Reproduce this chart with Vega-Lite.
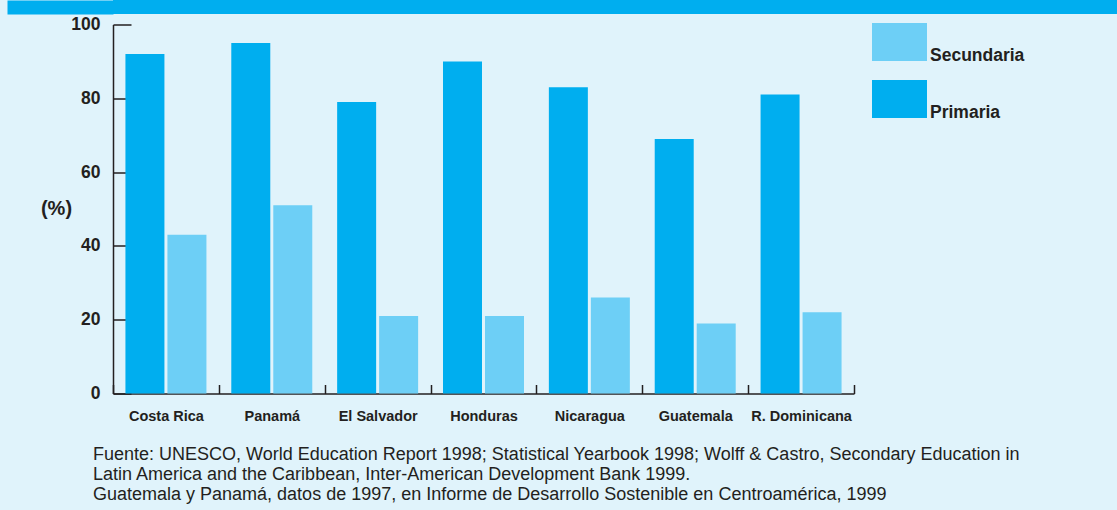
{
  "$schema": "https://vega.github.io/schema/vega-lite/v6.json",
  "background": "#e0f3fb",
  "padding": {"left": 0, "top": 0, "right": 0, "bottom": 8},
  "spacing": 1.5,
  "columns": 1,
  "config": {
    "font": "Liberation Sans",
    "view": {"stroke": null}
  },
  "concat": [
    {
      "width": 1004,
      "height": 14,
      "view": {"fill": "#00aeef", "stroke": null},
      "data": {"values": [{}]},
      "mark": {"type": "rule", "color": "#00aeef", "strokeWidth": 14},
      "encoding": {
        "y": {
          "datum": 0.5,
          "type": "quantitative",
          "scale": {"domain": [0, 1]},
          "axis": {
            "values": [0.5],
            "title": null,
            "labels": false,
            "domain": false,
            "grid": false,
            "tickSize": 106,
            "tickWidth": 14,
            "tickCap": "butt",
            "tickColor": "#00aeef"
          }
        }
      }
    },
    {
      "width": 741,
      "height": 369,
      "data": {
        "values": [
          {"pais": "Costa Rica", "nivel": "Primaria", "valor": 92},
          {"pais": "Costa Rica", "nivel": "Secundaria", "valor": 43},
          {"pais": "Panamá", "nivel": "Primaria", "valor": 95},
          {"pais": "Panamá", "nivel": "Secundaria", "valor": 51},
          {"pais": "El Salvador", "nivel": "Primaria", "valor": 79},
          {"pais": "El Salvador", "nivel": "Secundaria", "valor": 21},
          {"pais": "Honduras", "nivel": "Primaria", "valor": 90},
          {"pais": "Honduras", "nivel": "Secundaria", "valor": 21},
          {"pais": "Nicaragua", "nivel": "Primaria", "valor": 83},
          {"pais": "Nicaragua", "nivel": "Secundaria", "valor": 26},
          {"pais": "Guatemala", "nivel": "Primaria", "valor": 69},
          {"pais": "Guatemala", "nivel": "Secundaria", "valor": 19},
          {"pais": "R. Dominicana", "nivel": "Primaria", "valor": 81},
          {"pais": "R. Dominicana", "nivel": "Secundaria", "valor": 22}
        ]
      },
      "title": {
        "text": [
          "Fuente: UNESCO, World Education Report 1998; Statistical Yearbook 1998; Wolff & Castro, Secondary Education in",
          "Latin America and the Caribbean, Inter-American Development Bank 1999.",
          "Guatemala y Panamá, datos de 1997, en Informe de Desarrollo Sostenible en Centroamérica, 1999"
        ],
        "orient": "bottom",
        "anchor": "start",
        "frame": "group",
        "dx": -20,
        "offset": 23,
        "fontSize": 18,
        "fontWeight": "normal",
        "color": "#231f20",
        "lineHeight": 20
      },
      "mark": {"type": "bar"},
      "encoding": {
        "x": {
          "field": "pais",
          "type": "nominal",
          "sort": ["Costa Rica", "Panamá", "El Salvador", "Honduras", "Nicaragua", "Guatemala", "R. Dominicana"],
          "scale": {"paddingInner": 0, "paddingOuter": 0},
          "axis": {
            "title": null,
            "labelAngle": 0,
            "labelFontSize": 14.5,
            "labelFontWeight": "bold",
            "labelColor": "#231f20",
            "labelPadding": 24.5,
            "tickBand": "extent",
            "tickSize": -9,
            "tickColor": "#231f20",
            "tickWidth": 1.5,
            "domainColor": "#231f20",
            "domainWidth": 1.5
          }
        },
        "xOffset": {
          "field": "nivel",
          "sort": ["Primaria", "Secundaria"],
          "scale": {"paddingInner": 0.0714, "paddingOuter": 0.296}
        },
        "y": {
          "field": "valor",
          "type": "quantitative",
          "scale": {"domain": [0, 100]},
          "axis": {
            "values": [0, 20, 40, 60, 80, 100],
            "grid": false,
            "title": "(%)",
            "titleAngle": 0,
            "titleX": -57,
            "titleY": 184,
            "titleAlign": "center",
            "titleBaseline": "middle",
            "titleFontSize": 20,
            "titleFontWeight": "bold",
            "titleColor": "#231f20",
            "labelFontSize": 17.5,
            "labelFontWeight": "bold",
            "labelColor": "#231f20",
            "labelPadding": 31,
            "tickSize": -18,
            "tickColor": "#231f20",
            "tickWidth": 1.5,
            "domainColor": "#231f20",
            "domainWidth": 1.5,
            "minExtent": 109
          }
        },
        "color": {
          "field": "nivel",
          "type": "nominal",
          "scale": {"domain": ["Secundaria", "Primaria"], "range": ["#6dcff6", "#00aeef"]},
          "legend": {
            "orient": "none",
            "legendX": 759,
            "legendY": 14.5,
            "title": null,
            "padding": 0,
            "symbolType": "M-1,-0.691L1,-0.691L1,0.691L-1,0.691Z",
            "symbolSize": 3025,
            "symbolStrokeWidth": 0,
            "symbolOpacity": 1,
            "labelFontSize": 17.5,
            "labelFontWeight": "bold",
            "labelColor": "#231f20",
            "labelOffset": 3,
            "labelBaseline": "alphabetic",
            "rowPadding": 7,
            "encode": {"labels": {"update": {"dy": {"value": 19}}}}
          }
        }
      }
    }
  ]
}
